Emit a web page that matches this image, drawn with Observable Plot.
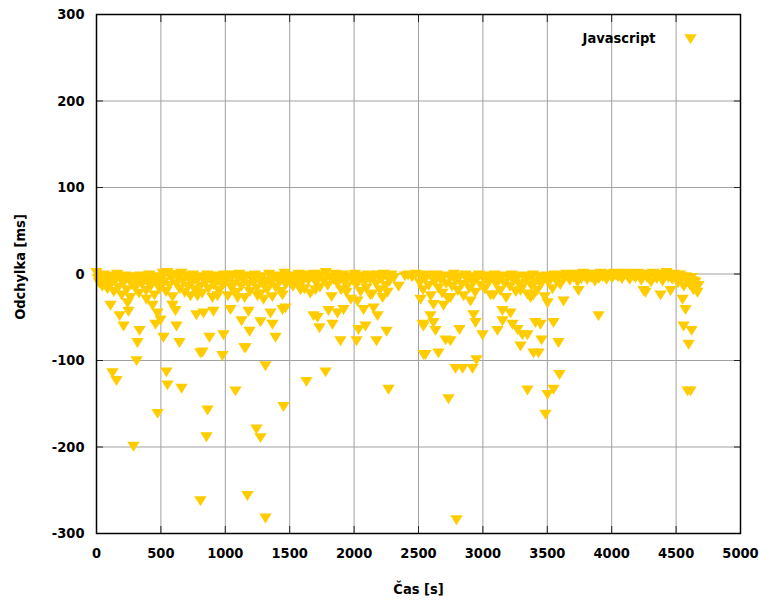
<!DOCTYPE html>
<html><head><meta charset="utf-8">
<script src="https://cdn.jsdelivr.net/npm/d3@7"></script>
<script src="https://cdn.jsdelivr.net/npm/@observablehq/plot@0.6"></script>
<style>body{margin:0;background:#fff} svg text{font-stretch:condensed}</style>
</head><body><div id="chart"></div>
<script>
const seriesName = "Javascript";
const xTicks = [0,500,1000,1500,2000,2500,3000,3500,4000,4500,5000];
const yTicks = [-300,-200,-100,0,100,200,300];

// dense band near zero
const bandTime = [0,10,20,30,45,55,70,85,95,110,120,135,145,160,170,185,195,210,225,235,250,262,275,290,300,315,330,340,355,370,385,395,410,420,435,450,460,475,490,500,
515,525,540,550,565,580,590,605,620,630,645,660,670,685,700,710,725,740,750,765,780,790,805,820,830,845,860,870,885,900,910,925,940,950,965,980,990,
1005,1020,1030,1045,1060,1070,1085,1100,1110,1125,1140,1150,1165,1180,1190,1205,1220,1230,1245,1260,1270,1285,1300,1310,1325,1340,1350,1365,1380,1390,1405,1420,1430,1445,1460,1470,1485,1495,
1510,1525,1540,1555,1570,1585,1600,1615,1630,1645,1660,1675,1690,1705,1720,1735,1750,1765,1780,1795,1810,1825,1840,1855,1870,1885,1900,1915,1930,1945,1960,1975,1990,
2005,2020,2035,2050,2065,2080,2095,2110,2125,2140,2155,2170,2185,2200,2215,2230,2245,2260,2275,2290,2310,2395,2420,2450,2480,
2510,2520,2535,2550,2565,2580,2595,2610,2625,2640,2655,2670,2685,2700,2715,2730,2745,2760,2775,2790,2805,2820,2835,2850,2865,2880,2895,2910,2925,2940,2955,2970,2985,
3000,3015,3030,3045,3060,3075,3090,3105,3120,3135,3150,3165,3180,3195,3210,3225,3240,3255,3270,3285,3300,3315,3330,3345,3360,3375,3390,3405,3420,3435,3450,3465,3480,3495,3510,3525,3540,3555,3570,3585,3600,
3615,3630,3645,3660,3675,3690,3705,3720,3735,3750,3765,3780,3795,3810,3825,3840,3855,3870,3885,3900,3915,3930,3945,3960,3975,3990,4005,4020,4035,4050,4065,4080,4095,4110,4125,4140,4155,4170,4185,4200,4215,4230,4245,4260,4275,4290,4305,4320,4335,4350,4365,4380,4395,4410,4425,4440,4455,4470,4485,4500,4515,4530,4545,4560,4575,4590,4605,4620,4635,4650,4660];
const bandDev = [2,-5,-10,-3,-14,-1,-8,-17,-4,-12,-2,-20,-7,0,-15,-5,-24,-10,-2,-18,-6,-27,-12,-3,-16,-8,-22,-2,-11,-5,-19,-9,-1,-14,-6,-24,-3,-11,-17,-6,
1,-9,-20,2,-13,-4,-26,0,-11,-3,-17,1,-8,-21,-2,-14,-5,-10,-1,-18,-7,-3,-14,-22,-4,-10,-1,-17,-6,-27,-12,-2,-8,-19,-4,-13,-1,
-9,-25,-4,-15,-1,-11,-21,-5,0,-14,-7,-27,-2,-12,-20,-4,-9,-1,-16,-6,-23,-3,-13,-8,-18,0,-10,-26,-5,-15,-2,-9,-20,-4,1,-12,-7,-2,
-6,-14,-3,-9,0,-12,-4,-17,-1,-7,-22,-3,0,-10,-5,-15,-1,-8,2,-13,-3,-26,-6,0,-11,-4,-18,-1,-8,-14,-3,-29,-7,
0,-12,-5,-20,-2,-9,-16,-1,-6,-23,-3,-11,-1,-18,-5,0,-13,-2,-8,-1,-4,-2,-1,-3,0,
-10,-2,-18,-6,-1,-13,-25,-4,-9,-1,-16,-6,-22,-2,-11,-28,-4,-14,0,-8,-19,-3,-12,-25,-1,-7,-16,-3,-10,-21,-5,-1,-13,
-4,-17,-2,-9,-24,-5,-1,-12,-6,-19,-2,-10,-27,-4,-14,-1,-8,-20,-3,-11,-16,-2,-7,-23,-4,-13,-1,-9,-19,-3,-12,-6,-26,-2,-10,-4,-17,-1,-8,-3,-12,
-2,-5,0,-3,-7,-1,-4,0,-9,-2,-5,1,-3,-6,-1,-4,0,-8,-2,-5,1,-3,-1,-6,0,-2,-4,1,-1,-3,0,-5,-1,1,-3,-6,0,-2,-4,1,-1,-7,-2,0,-4,-1,-9,1,-3,-5,0,-2,-8,-1,2,-4,-1,-6,0,-3,-10,-1,-5,-14,-3,-8,-12,-4,-18,-9,-14];

// scattered mid-range points
const midTime = [109,241,179,248,210,334,318,311,388,435,474,458,497,520,621,644,590,613,776,807,730,784,
877,986,823,978,1157,1188,1126,1273,1366,1390,831,908,1040,1180,1351,1444,1467,939,1095,1250,1297,1444,1584,1685,
1700,1941,2026,1716,1801,1871,1918,1731,1832,1894,2019,2034,2088,2174,2252,2073,2151,2182,2221,2259,2345,2516,2531,2539,2127,
2616,2694,2593,2616,2539,2632,2710,2748,2554,2655,2818,2927,2943,2997,2748,2904,3152,3214,3152,3230,3113,3269,3307,3346,3292,3393,3370,3082,3292,
3408,3447,3548,3455,3587,3432,3626,3502,3742,4247,3393,
4262,4379,4457,4550,4573,4558,4620,4597,4666,4674,4635];
const midDev = [-36,-33,-48,-43,-60,-65,-79,-100,-29,-36,-45,-58,-53,-73,-60,-79,-36,-42,-47,-91,-25,-25,
-73,-70,-90,-94,-85,-66,-54,-55,-58,-73,-45,-43,-41,-43,-45,-41,-39,-25,-27,-25,-29,-24,-18,-48,
-18,-21,-31,-50,-42,-45,-41,-62,-58,-77,-77,-64,-60,-77,-66,-41,-39,-48,-27,-21,-14,-29,-58,-93,-24,
-35,-36,-48,-56,-60,-65,-76,-77,-93,-91,-64,-47,-56,-70,-27,-31,-42,-45,-54,-58,-65,-64,-70,-70,-83,-91,-27,-24,-19,
-56,-58,-56,-76,-79,-91,-31,-33,-19,-19,-24,
-21,-24,-19,-29,-41,-60,-65,-81,-21,-13,-8];

// deep outliers
const lowTime = [124,155,287,474,543,551,660,807,854,862,1079,1149,1172,1242,1273,1312,1312,1452,1630,1778,2267,2733,2795,2787,2842,2919,2950,3346,3486,3502,3548,3595,3898,4589,4612];
const lowDev = [-114,-123,-199,-161,-113,-128,-132,-262,-188,-157,-135,-85,-256,-179,-189,-282,-106,-153,-124,-113,-133,-144,-284,-109,-109,-109,-99,-134,-162,-139,-133,-116,-48,-135,-135];

const pts = [];
bandTime.forEach((t,i)=>pts.push({t, d: bandDev[i]}));
midTime.forEach((t,i)=>pts.push({t, d: midDev[i]}));
lowTime.forEach((t,i)=>pts.push({t, d: lowDev[i]}));

const triDown = {
  draw(ctx, size) {
    const r = Math.sqrt(size / Math.PI);
    ctx.moveTo(-r, -0.7 * r);
    ctx.lineTo(r, -0.7 * r);
    ctx.lineTo(0, 0.9 * r);
    ctx.closePath();
  }
};
const gold = "#ffcc00";
const font = "'DejaVu Sans', sans-serif";
const fmt = d => String(d);

const chart = Plot.plot({
  width: 759,
  height: 601,
  marginLeft: 96,
  marginRight: 19,
  marginTop: 14,
  marginBottom: 68,
  style: {fontFamily: font, fontSize: "14px", color: "#000", background: "#fff"},
  x: {domain: [0, 5000]},
  y: {domain: [-300, 300]},
  marks: [
    Plot.gridX(xTicks, {stroke: "#a0a0a0", strokeOpacity: 1, strokeWidth: 1}),
    Plot.gridY(yTicks, {stroke: "#a0a0a0", strokeOpacity: 1, strokeWidth: 1}),
    Plot.axisX(xTicks, {anchor: "bottom", tickSize: -7, tickFormat: () => "", stroke: "#222", label: null}),
    Plot.axisX(xTicks, {anchor: "top", tickSize: -7, tickFormat: () => "", stroke: "#222", label: null}),
    Plot.axisY(yTicks, {anchor: "left", tickSize: -7, tickFormat: () => "", stroke: "#222", label: null}),
    Plot.axisY(yTicks, {anchor: "right", tickSize: -7, tickFormat: () => "", stroke: "#222", label: null}),
    Plot.axisX(xTicks, {anchor: "bottom", tickSize: 0, tickPadding: 14, label: null, tickFormat: fmt, fontSize: 14.5, fontWeight: "bold"}),
    Plot.axisY(yTicks, {anchor: "left", tickSize: 0, tickPadding: 12, label: null, tickFormat: fmt, fontSize: 14.5, fontWeight: "bold"}),
    Plot.dot(pts, {x: "t", y: "d", symbol: triDown, r: 6.2, fill: gold, stroke: "none"}),
    Plot.frame({stroke: "#000", strokeWidth: 1.5}),
    Plot.text([seriesName], {frameAnchor: "top-right", textAnchor: "end", lineAnchor: "middle", dx: -85, dy: 24, fontSize: 14.5, fontWeight: "bold"}),
    Plot.dot([seriesName], {x: null, y: null, frameAnchor: "top-right", dx: -50, dy: 24, symbol: triDown, r: 6.2, fill: gold, stroke: "none"}),
    Plot.text(["Čas [s]"], {frameAnchor: "bottom", textAnchor: "middle", lineAnchor: "middle", dy: 56, fontSize: 14.5, fontWeight: "bold"}),
    Plot.text(["Odchylka [ms]"], {frameAnchor: "left", textAnchor: "middle", lineAnchor: "middle", dx: -76, dy: -7, rotate: -90, fontSize: 14.5, fontWeight: "bold"})
  ]
});
document.getElementById("chart").append(chart);
</script>
</body></html>
